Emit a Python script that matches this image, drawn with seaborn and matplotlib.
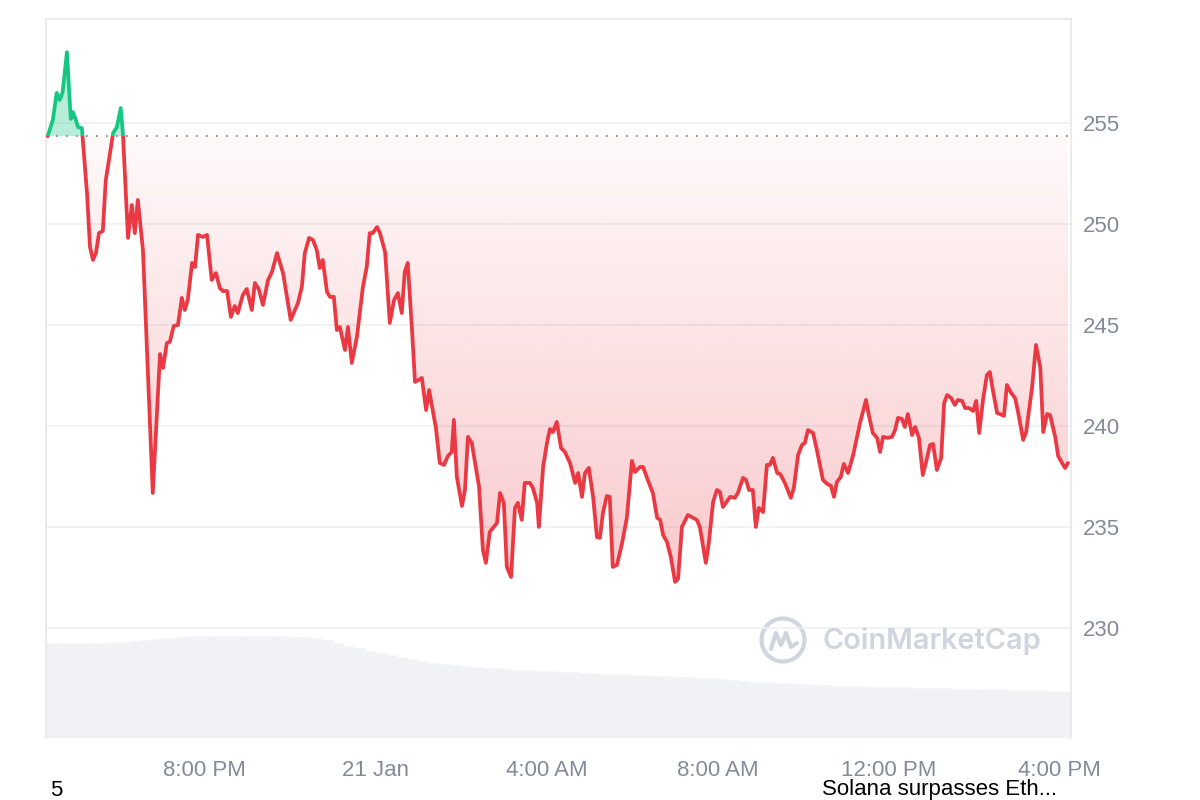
import matplotlib

matplotlib.use("Agg")
import matplotlib.pyplot as plt
import numpy as np
import pandas as pd
import seaborn as sns
from matplotlib.colors import to_rgb
from matplotlib.lines import Line2D
from matplotlib.patches import Circle, Polygon, Rectangle

# price trace, hours counted from 00:00 on 20 Jan
hours = [
    16.32, 16.44, 16.53, 16.60, 16.67, 16.77, 16.86, 16.91, 16.98, 17.03,
    17.12, 17.24, 17.31, 17.38, 17.45, 17.52, 17.61, 17.68, 17.78, 17.85,
    17.94, 18.03, 18.08, 18.20, 18.29, 18.36, 18.43, 18.55, 18.78, 18.95,
    19.02, 19.11, 19.18, 19.27, 19.37, 19.46, 19.53, 19.60, 19.70, 19.77,
    19.84, 19.95, 20.05, 20.16, 20.26, 20.35, 20.42, 20.52, 20.61, 20.70,
    20.77, 20.89, 20.98, 21.10, 21.17, 21.26, 21.36, 21.48, 21.57, 21.69,
    21.83, 22.01, 22.18, 22.27, 22.34, 22.44, 22.53, 22.62, 22.69, 22.76,
    22.86, 22.93, 23.02, 23.09, 23.16, 23.28, 23.35, 23.44, 23.56, 23.70,
    23.79, 23.86, 23.93, 24.03, 24.10, 24.22, 24.33, 24.43, 24.52, 24.61,
    24.68, 24.75, 24.85, 24.92, 25.01, 25.08, 25.18, 25.25, 25.41, 25.50,
    25.60, 25.69, 25.78, 25.83, 25.90, 26.02, 26.09, 26.16, 26.25, 26.42,
    26.51, 26.58, 26.67, 26.84, 26.91, 27.00, 27.07, 27.17, 27.26, 27.33,
    27.42, 27.49, 27.61, 27.68, 27.78, 27.82, 27.92, 28.01, 28.08, 28.15,
    28.24, 28.34, 28.43, 28.55, 28.67, 28.74, 28.83, 28.90, 28.99, 29.09,
    29.18, 29.25, 29.32, 29.41, 29.48, 29.55, 29.65, 29.77, 29.88, 30.00,
    30.07, 30.19, 30.26, 30.37, 30.49, 30.59, 30.66, 30.73, 30.82, 30.91,
    31.01, 31.08, 31.17, 31.31, 31.43, 31.52, 31.59, 31.73, 31.80, 31.90,
    31.99, 32.06, 32.13, 32.30, 32.41, 32.48, 32.60, 32.67, 32.74, 32.83,
    32.90, 32.97, 33.07, 33.16, 33.23, 33.30, 33.40, 33.47, 33.58, 33.72,
    33.79, 33.89, 33.98, 34.05, 34.12, 34.24, 34.33, 34.47, 34.57, 34.66,
    34.73, 34.80, 34.89, 34.96, 35.06, 35.18, 35.34, 35.48, 35.55, 35.64,
    35.74, 35.81, 35.88, 35.99, 36.09, 36.16, 36.23, 36.32, 36.39, 36.46,
    36.56, 36.63, 36.72, 36.81, 36.91, 36.98, 37.05, 37.14, 37.24, 37.31,
    37.38, 37.47, 37.56, 37.63, 37.73, 37.80, 37.89, 37.99, 38.06, 38.13,
    38.22, 38.31, 38.38, 38.45, 38.55, 38.62, 38.71, 38.78, 38.88, 38.97,
    39.04, 39.16, 39.23, 39.37, 39.46, 39.56, 39.63, 39.72, 39.79, 39.91,
    39.98, 40.07, 40.14, 40.21,
]
price = [
    254.35, 255.15, 256.49, 256.14, 256.53, 258.51, 255.20, 255.54, 255.15, 254.80,
    254.75, 251.53, 248.86, 248.22, 248.56, 249.55, 249.65, 252.18, 253.51, 254.50,
    254.80, 255.74, 254.50, 249.31, 250.94, 249.55, 251.19, 248.71, 236.68, 243.56,
    242.87, 244.11, 244.16, 244.95, 245.00, 246.34, 245.74, 246.24, 248.07, 247.87,
    249.46, 249.36, 249.46, 247.23, 247.57, 246.83, 246.68, 246.68, 245.40, 245.94,
    245.59, 246.49, 246.78, 245.74, 247.08, 246.78, 245.99, 247.23, 247.62, 248.56,
    247.57, 245.25, 246.09, 246.88, 248.56, 249.31, 249.21, 248.71, 247.82, 248.22,
    246.63, 246.39, 246.39, 244.75, 244.90, 243.76, 244.90, 243.12, 244.41, 246.88,
    247.87, 249.55, 249.55, 249.85, 249.55, 248.61, 245.10, 246.24, 246.58, 245.59,
    247.62, 248.07, 244.75, 242.18, 242.28, 242.38, 240.79, 241.78, 239.90, 238.17,
    238.07, 238.51, 238.71, 240.30, 237.48, 236.04, 236.83, 239.46, 239.16, 236.98,
    233.86, 233.22, 234.75, 235.20, 236.68, 236.19, 233.02, 232.52, 235.94, 236.19,
    235.35, 237.18, 237.18, 236.93, 236.19, 235.00, 237.97, 239.16, 239.85, 239.70,
    240.20, 238.91, 238.71, 238.17, 237.18, 237.67, 236.49, 237.67, 237.92, 236.49,
    234.50, 234.46, 235.69, 236.53, 236.49, 233.02, 233.12, 234.21, 235.45, 238.27,
    237.72, 237.97, 237.97, 237.33, 236.68, 235.45, 235.35, 234.60, 234.26, 233.51,
    232.28, 232.43, 235.00, 235.59, 235.45, 235.35, 235.00, 233.22, 234.21, 236.24,
    236.83, 236.73, 235.99, 236.49, 236.44, 236.68, 237.43, 237.33, 236.83, 236.83,
    235.00, 235.94, 235.74, 238.07, 238.07, 238.42, 237.67, 237.62, 237.18, 236.44,
    236.93, 238.56, 239.06, 239.16, 239.80, 239.65, 238.81, 237.33, 237.13, 237.03,
    236.49, 237.23, 237.48, 238.12, 237.67, 238.56, 240.15, 241.29, 240.50, 239.65,
    239.41, 238.71, 239.46, 239.41, 239.46, 239.80, 240.40, 240.35, 239.95, 240.59,
    239.55, 239.95, 239.41, 237.57, 238.42, 239.06, 239.11, 237.82, 238.42, 241.14,
    241.53, 241.39, 241.04, 241.29, 241.24, 240.89, 240.89, 240.74, 241.24, 239.65,
    241.29, 242.52, 242.67, 241.78, 240.64, 240.59, 240.50, 242.03, 241.63, 241.39,
    240.69, 239.31, 239.70, 241.93, 244.01, 242.92, 239.70, 240.59, 240.54, 239.46,
    238.51, 238.17, 237.92, 238.17,
]
open_price = 254.35

# 24h volume (billions), one bar per quarter hour
vol_hours = np.arange(16.375, 40.2, 0.25)
volume_bn = [
    9.5, 9.5, 9.5, 9.5, 9.5, 9.5, 9.6, 9.6, 9.7, 9.8,
    9.9, 10.0, 10.1, 10.2, 10.2, 10.2, 10.2, 10.2, 10.2, 10.2,
    10.2, 10.2, 10.2, 10.1, 10.1, 10.0, 9.8, 9.5, 9.2, 9.0,
    8.7, 8.5, 8.3, 8.1, 7.9, 7.7, 7.5, 7.4, 7.3, 7.2,
    7.1, 7.0, 7.0, 6.9, 6.8, 6.8, 6.7, 6.7, 6.6, 6.6,
    6.5, 6.5, 6.4, 6.4, 6.4, 6.3, 6.3, 6.2, 6.2, 6.1,
    6.1, 6.0, 6.0, 5.9, 5.8, 5.7, 5.6, 5.6, 5.5, 5.5,
    5.4, 5.4, 5.3, 5.3, 5.2, 5.2, 5.2, 5.1, 5.1, 5.1,
    5.1, 5.0, 5.0, 5.0, 5.0, 4.9, 4.9, 4.9, 4.9, 4.9,
    4.8, 4.8, 4.8, 4.8, 4.7, 4.7,
]

x_ticks = [20, 24, 28, 32, 36, 40]
x_labels = ["8:00 PM", "21 Jan", "4:00 AM", "8:00 AM", "12:00 PM", "4:00 PM"]
y_ticks = [230, 235, 240, 245, 250, 255]

UP = "#16c784"
DOWN = "#ea3943"
GREY = "#838b98"
WATERMARK = "#cfd5de"

sns.set_theme(style="white")
plt.rcParams["font.family"] = ["Liberation Sans", "DejaVu Sans"]

df = pd.DataFrame({"hour": hours, "price": price})
x0, x1 = 16.28, 40.28

fig = plt.figure(figsize=(12, 8), dpi=100)
ax = fig.add_axes([46 / 1200, 62 / 800, 1025 / 1200, 719 / 800])
vol = ax.twinx()

# volume bars underneath
vol.bar(vol_hours, volume_bn, width=0.25, color="#f0f2f6",
        edgecolor="#f6f7f9", linewidth=0.4)
vol.set_ylim(0, 71.9)
vol.set_yticks([])
for s in vol.spines.values():
    s.set_visible(False)
ax.set_zorder(vol.get_zorder() + 1)
ax.patch.set_visible(False)

# green area above the open price
ax.fill_between(df["hour"], df["price"], open_price, where=df["price"] >= open_price,
                interpolate=True, color=UP, alpha=0.3, linewidth=0, zorder=1)

# red gradient below the open price
pmin = df["price"].min()
grad = np.zeros((256, 1, 4))
grad[..., :3] = to_rgb(DOWN)
grad[..., 3] = np.linspace(0.27, 0.03, 256)[:, None]
im = ax.imshow(grad, extent=[x0, x1, pmin, open_price], origin="lower",
               aspect="auto", interpolation="bilinear", zorder=1)
low = np.minimum(df["price"].to_numpy(), open_price)
verts = np.column_stack([df["hour"].to_numpy(), low])
verts = np.vstack([verts, [[df["hour"].iloc[-1], open_price], [df["hour"].iloc[0], open_price]]])
im.set_clip_path(Polygon(verts, closed=True, transform=ax.transData))

ax.axhline(open_price, color="#8c939d", lw=1.5, ls=(0, (0.8, 4)), zorder=2)

# price line, red below / green above the open
sns.lineplot(data=df, x="hour", y="price", ax=ax, color=DOWN, linewidth=2.7, zorder=3)
red = ax.lines[-1]
red.set_clip_path(Rectangle((0, 200), 60, open_price - 200, transform=ax.transData))
red.set_solid_joinstyle("round")
sns.lineplot(data=df, x="hour", y="price", ax=ax, color=UP, linewidth=2.7, zorder=3)
green = ax.lines[-1]
green.set_clip_path(Rectangle((0, open_price), 60, 100, transform=ax.transData))
green.set_solid_joinstyle("round")

ax.set_xlim(x0, x1)
ax.set_ylim(224.55, 260.15)
ax.set_xlabel("")
ax.set_ylabel("")
ax.set_xticks(x_ticks)
ax.set_xticklabels(x_labels)
ax.set_yticks(y_ticks)
ax.set_yticklabels([str(v) for v in y_ticks])
ax.yaxis.tick_right()
ax.set_axisbelow(True)
ax.yaxis.grid(True, color="#eef0f3", lw=1.2)
ax.xaxis.grid(False)
ax.tick_params(axis="y", length=0, pad=8.5, labelsize=16, labelcolor=GREY)
ax.tick_params(axis="x", length=0, pad=15.5, labelsize=16, labelcolor=GREY)
for s in ["top", "left", "right"]:
    ax.spines[s].set_color("#e8e8e8")
    ax.spines[s].set_linewidth(1.2)
ax.spines["bottom"].set_visible(False)

# watermark
fig.add_artist(Circle((7.83, 1.60), 0.215, transform=fig.dpi_scale_trans,
                      fill=False, edgecolor=WATERMARK, lw=3.0))
mx = np.array([-12, -7, -2, 3, 8, 14]) / 100 + 7.83
my = np.array([-9, 7, -5, 7, -7, -3]) / 100 + 1.60
fig.add_artist(Line2D(mx, my, transform=fig.dpi_scale_trans, color=WATERMARK,
                      lw=3.0, solid_joinstyle="round", solid_capstyle="round"))
fig.text(822 / 1200, 1 - 641 / 800, "CoinMarketCap", fontsize=20.8, fontweight=600,
         family=["Inter", "DejaVu Sans"], color=WATERMARK, va="center", ha="left")

# footer strings
fig.text(50 / 1200, 1 - 790 / 800, "5", fontsize=16, color="black", va="center")
fig.text(822 / 1200, 1 - 790 / 800, "Solana surpasses Eth...", fontsize=16,
         color="black", va="center")

fig.savefig("out.png", dpi=100, facecolor="white")
